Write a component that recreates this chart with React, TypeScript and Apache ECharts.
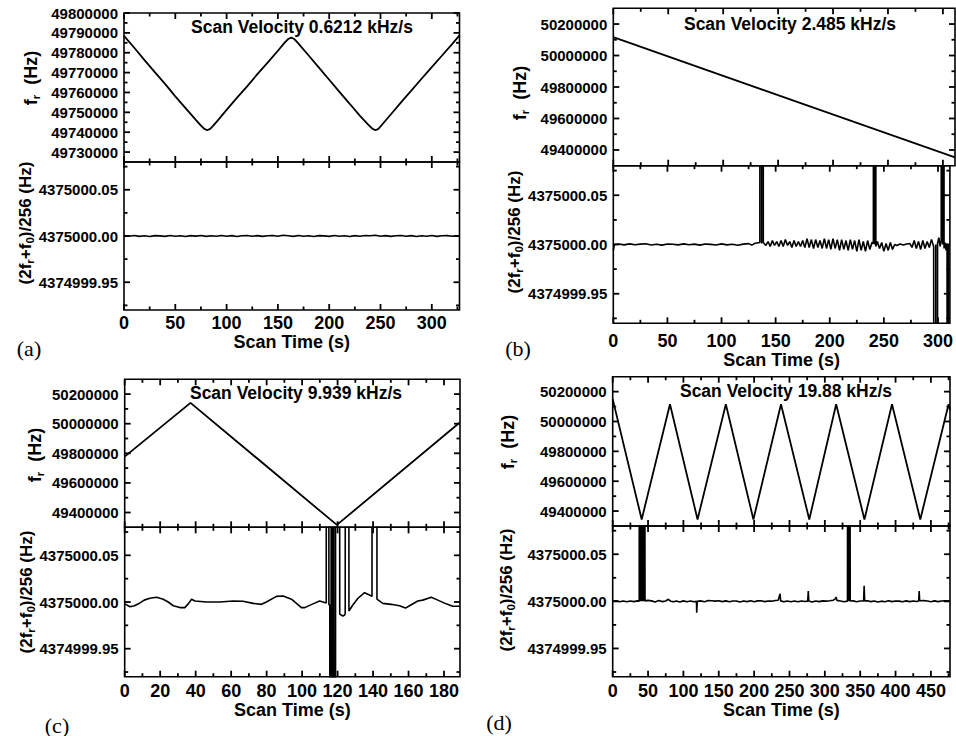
import React, { useEffect, useRef } from 'react';
import * as echarts from 'echarts';

type Pt = [number, number];

const FONT = '"Liberation Sans", Arial, Helvetica, sans-serif';
const SERIF = '"Liberation Serif", "Times New Roman", serif';
const BASE = 4375000; // (2fr+f0)/256 nominal, Hz

// ---------- tick values ----------
const X_MAJOR_A = [0, 50, 100, 150, 200, 250, 300];
const X_MINOR_A = [25, 75, 125, 175, 225, 275, 325];
const X_MAJOR_B = [0, 50, 100, 150, 200, 250, 300];
const X_MINOR_B = [25, 75, 125, 175, 225, 275];
const X_MAJOR_C = [0, 20, 40, 60, 80, 100, 120, 140, 160, 180];
const X_MINOR_C = [10, 30, 50, 70, 90, 110, 130, 150, 170];
const X_MAJOR_D = [0, 50, 100, 150, 200, 250, 300, 350, 400, 450];
const X_MINOR_D = [25, 75, 125, 175, 225, 275, 325, 375, 425, 475];

const FR_MAJOR_A = [49730000, 49740000, 49750000, 49760000, 49770000, 49780000, 49790000, 49800000];
const FR_MINOR_A = [49735000, 49745000, 49755000, 49765000, 49775000, 49785000, 49795000];
const FR_MAJOR_WIDE = [49400000, 49600000, 49800000, 50000000, 50200000];
const FR_MINOR_WIDE = [49500000, 49700000, 49900000, 50100000];

const DEV_MAJOR = [4374999.95, 4375000.0, 4375000.05];
const DEV_MINOR = [4374999.925, 4374999.975, 4375000.025, 4375000.075];

// ---------- panel (a) ----------
const aFr: Pt[] = [
  [0, 49788500], [10, 49782500], [20, 49776300], [30, 49770200], [40, 49764300], [50, 49758000],
  [60, 49752100], [70, 49746200], [75, 49743300], [78, 49741800], [81, 49741000], [84, 49741700],
  [87, 49743300], [90, 49745100], [100, 49751200], [110, 49757300], [120, 49763100], [130, 49769200],
  [140, 49775000], [150, 49781000], [157, 49785300], [160, 49786900], [163, 49787600], [166, 49786900],
  [169, 49785200], [180, 49778600], [190, 49772500], [200, 49766400], [210, 49760300], [220, 49754300],
  [230, 49748200], [238, 49743800], [242, 49741800], [245, 49741000], [248, 49741700], [251, 49743500],
  [260, 49748900], [270, 49755000], [280, 49760900], [290, 49766900], [300, 49772800], [310, 49778600],
  [320, 49784500], [327, 49788700],
];
const aDev: Pt[] = [
  [0, 0.0004], [5, -0.0003], [10, 0.0005], [15, -0.0004], [20, 0.0002], [25, -0.0005], [30, 0.0004],
  [35, 0.0001], [40, -0.0004], [45, 0.0005], [50, -0.0002], [55, 0.0003], [60, -0.0005], [65, 0.0004],
  [70, -0.0001], [75, 0.0005], [80, -0.0004], [85, 0.0003], [90, -0.0003], [95, 0.0006], [100, -0.0002],
  [105, 0.0004], [110, -0.0005], [115, 0.0002], [120, 0.0005], [125, -0.0003], [130, 0.0004], [135, -0.0004],
  [140, 0.0003], [145, 0.0006], [150, -0.0002], [155, 0.0008], [160, 0.0003], [165, -0.0004], [170, 0.0005],
  [175, -0.0003], [180, 0.0002], [185, -0.0005], [190, 0.0004], [195, 0.0001], [200, -0.0004], [205, 0.0005],
  [210, -0.0003], [215, 0.0003], [220, -0.0005], [225, 0.0004], [230, -0.0002], [235, 0.0005], [240, 0.0003],
  [245, 0.0008], [250, -0.0003], [255, 0.0004], [260, -0.0004], [265, 0.0002], [270, 0.0005], [275, -0.0003],
  [280, 0.0004], [285, -0.0005], [290, 0.0003], [295, -0.0002], [300, 0.0005], [305, -0.0004], [310, 0.0002],
  [315, 0.0004], [320, -0.0003], [325, 0.0003], [327, 0.0001],
];

// ---------- panel (b) ----------
const bFr: Pt[] = [[0, 50117000], [155, 49736000], [311, 49353000]];
const bDev: Pt[] = [
  [0, -0.006], [1, 0], [5, 0.0005], [10, -0.0004], [15, 0.0006], [20, -0.0003], [25, 0.0004], [30, 0.0007],
  [35, -0.0005], [40, 0.0003], [45, -0.0006], [50, 0.0005], [55, 0.0002], [60, -0.0004], [65, 0.0006],
  [70, -0.0003], [75, 0.0004], [80, -0.0006], [85, 0.0005], [90, 0.0001], [95, -0.0005], [100, 0.0006],
  [105, -0.0004], [110, 0.0003], [115, -0.0007], [120, 0.0004], [125, 0.0009], [128, -0.0006], [131, 0.0012],
  [134, 0.0018], [135.4, 0.002], [135.5, 0.5], [137.0, 0.5], [137.05, 0.001], [137.1, 0.5], [138.5, 0.5],
  [138.6, 0.002],
  [139, 0.002], [141, -0.001], [143, 0.003], [145, -0.002], [147, 0.004], [149, -0.001], [151, 0.003],
  [153, -0.002], [155, 0.004], [157, -0.002], [159, 0.005], [161, -0.001], [163, 0.003], [165, -0.003],
  [167, 0.004], [169, -0.002], [171, 0.003], [173, -0.002], [175, 0.004], [177, -0.003], [179, 0.006],
  [181, -0.003], [183, 0.005], [185, -0.004], [187, 0.005], [189, -0.003], [191, 0.004], [193, -0.004],
  [195, 0.006], [197, -0.004], [199, 0.005], [201, -0.005], [203, 0.006], [205, -0.004], [207, 0.005],
  [209, -0.006], [211, 0.005], [213, -0.005], [215, 0.004], [217, -0.006], [219, 0.005], [221, -0.005],
  [223, 0.004], [225, -0.007], [227, 0.005], [229, -0.006], [231, 0.003], [233, -0.007], [235, 0.004],
  [237, -0.005], [239, 0.002],
  [240.3, 0.001], [240.4, 0.5], [241.4, 0.5], [241.45, 0.0], [241.5, 0.5], [242.5, 0.5], [242.6, -0.002],
  [244, 0.003], [246, -0.004], [248, 0.002], [250, -0.007], [252, 0.001], [254, -0.006], [256, 0.002],
  [258, -0.005], [260, 0.0], [262, -0.001], [265, 0.0005], [268, -0.0005], [271, 0.0005], [274, 0.001],
  [276, -0.003], [278, 0.004], [280, -0.004], [282, 0.003], [284, -0.005], [286, 0.004], [288, -0.004],
  [290, 0.003], [292, -0.003], [294, 0.005], [296, -0.002],
  [296.4, -0.5], [297.9, -0.5], [297.95, 0.0], [298.0, -0.5], [299.5, -0.5], [299.6, 0.001],
  [300.8, 0.007], [302, -0.002], [303, 0.004],
  [303.1, 0.5], [304.3, 0.5], [304.35, 0.0], [304.4, 0.5], [305.5, 0.5], [305.6, -0.004],
  [306.5, 0.002], [307.5, -0.006], [308.4, 0.001],
  [308.5, -0.5], [309.5, -0.5], [309.55, 0.0], [309.6, -0.5], [310.6, -0.5], [311, -0.5],
];

// ---------- panel (c) ----------
const cFr: Pt[] = [[0, 49777800], [37.1, 50141000], [119.6, 49316000], [188.7, 50006700]];
const cDev: Pt[] = [
  [0, -0.002], [3, -0.005], [5.5, -0.004], [8.6, -0.001], [11, 0.002], [14.2, 0.004], [18, 0.005],
  [21.7, 0.003], [24.5, 0.0], [27.4, -0.004], [31.1, -0.006], [33.9, -0.006], [35.8, -0.002], [37.7, 0.003],
  [39.6, 0.001], [46.1, 0.0], [53.6, 0.0], [61.1, 0.001], [66.7, 0.0008], [72.4, -0.0015], [77.1, -0.0025],
  [79.9, 0.0], [85.5, 0.006], [89.3, 0.0065], [94, 0.003], [99.6, -0.006], [101.5, -0.006], [106.1, -0.002],
  [109.9, 0.001], [113.6, -0.001],
  [113.7, 0.5], [115.0, 0.5], [115.1, -0.003], [115.6, -0.003], [115.7, -0.5], [116.3, -0.5], [116.4, 0.5],
  [116.8, 0.5], [116.9, -0.5], [117.6, -0.5], [117.7, 0.5], [118.0, 0.5], [118.1, -0.5], [118.8, -0.5],
  [118.9, 0.5], [121.1, 0.5], [121.2, -0.013], [122, -0.014], [123, -0.015], [124, -0.014], [124.3, -0.012],
  [124.4, 0.5], [126.3, 0.5], [126.4, -0.0097], [128.7, -0.003], [131.5, 0.004], [135.2, 0.01], [138, 0.0075],
  [139.4, 0.006], [139.5, 0.5], [142.1, 0.5], [142.2, 0.003], [145.5, -0.0015], [150.2, -0.0025],
  [154.9, -0.004], [158.3, -0.0065], [161.5, -0.003], [165.2, 0.001], [168, 0.002], [172.8, 0.005],
  [176.5, 0.002], [181.2, -0.002], [184.9, -0.0045], [189, -0.0045],
];

// ---------- panel (d) ----------
const dFr: Pt[] = [
  [0, 50150000], [41, 49344000], [81, 50115000], [120, 49344000], [160, 50115000], [199, 49344000],
  [238, 50115000], [278, 49344000], [316, 50115000], [356, 49344000], [395, 50115000], [435, 49344000],
  [475, 50115000], [477, 50076000],
];
const dDev: Pt[] = [
  [0, 0], [5, 0.0005], [10, -0.0004], [15, 0.0003], [20, -0.0005], [25, 0.0004], [30, -0.0003], [35, 0.0005],
  [37.5, 0.0002], [37.7, 0.5], [38.7, 0.5], [38.8, 0], [38.9, 0.5], [39.9, 0.5], [40, 0], [40.1, 0.5],
  [41.1, 0.5], [41.2, 0], [41.3, 0.5], [42.3, 0.5], [42.4, 0], [42.5, 0.5], [43.5, 0.5], [43.6, 0],
  [43.7, 0.5], [44.7, 0.5], [44.8, 0], [44.9, 0.5], [45.6, 0.5], [45.7, 0.0005],
  [50, 0.001], [55, 0.0005], [60, -0.0006], [65, 0.0008], [70, -0.0003], [75, 0.0004], [78.7, 0.0022],
  [82, 0.0002], [86, -0.0005], [90, 0.0004], [95, -0.0006], [100, 0.0005], [105, -0.0004], [110, 0.0003],
  [115, -0.0005], [118.5, 0.0], [118.8, -0.012], [119.3, -0.012], [119.6, 0], [124, 0.0005], [130, -0.0004],
  [135, 0.0008], [140, 0.0006], [145, 0.0002], [150, 0.0007], [155, -0.0003], [160, 0.0005], [165, -0.0004],
  [170, 0.0004], [175, 0.0003], [180, -0.0006], [185, 0.0004], [190, -0.0003], [195, 0.0006], [200, -0.0004],
  [205, 0.0005], [210, 0.0006], [215, -0.0003], [220, 0.0004], [225, 0.0002], [230, 0.0009], [234, 0.0012],
  [236.7, 0.008], [237.5, 0.0005], [242, -0.0005], [247, 0.0004], [252, -0.0004], [257, 0.0003],
  [262, -0.0005], [267, 0.0004], [272, -0.0002], [275.8, 0.0002], [276.6, 0.011], [277.3, 0.0004],
  [282, -0.0006], [287, 0.0004], [292, -0.0003], [297, 0.0005], [302, 0.0002], [307, 0.0006], [312, 0.0012],
  [315.2, 0.003], [316, 0.0047], [317, 0.001], [322, 0.0003], [327, -0.0004], [332, 0.0002],
  [332.5, 0.5], [333.6, 0.5], [333.7, 0], [333.8, 0.5], [334.7, 0.5], [334.8, 0], [334.9, 0.5], [335.8, 0.5],
  [335.9, 0.0003], [340, 0.0005], [345, -0.0004], [350, 0.0003], [354.8, 0.0004], [355.6, 0.0165],
  [356.3, 0.0005], [360, 0.0006], [365, -0.0003], [370, 0.0004], [375, -0.0006], [380, 0.0002],
  [385, -0.0004], [390, 0.0007], [395, -0.0003], [400, 0.0004], [405, 0.0002], [410, -0.0004], [415, 0.0005],
  [420, -0.0003], [425, 0.0004], [430, -0.0002], [432.7, 0.0004], [433.4, 0.011], [434.1, 0.0006],
  [440, 0.0008], [445, 0.0003], [450, -0.0004], [455, 0.0005], [460, -0.0003], [465, 0.0004], [470, 0.0006],
  [477, 0.0003],
];

const PANELS = [
  { title: 'Scan Velocity 0.6212 kHz/s', letter: '(a)', xMax: 327, xMajor: X_MAJOR_A, xMinor: X_MINOR_A,
    frMin: 49725000, frMax: 49800000, frMajor: FR_MAJOR_A, frMinor: FR_MINOR_A, fr: aFr, dev: aDev },
  { title: 'Scan Velocity 2.485 kHz/s', letter: '(b)', xMax: 311, xMajor: X_MAJOR_B, xMinor: X_MINOR_B,
    frMin: 49300000, frMax: 50300000, frMajor: FR_MAJOR_WIDE, frMinor: FR_MINOR_WIDE, fr: bFr, dev: bDev },
  { title: 'Scan Velocity 9.939 kHz/s', letter: '(c)', xMax: 189, xMajor: X_MAJOR_C, xMinor: X_MINOR_C,
    frMin: 49300000, frMax: 50300000, frMajor: FR_MAJOR_WIDE, frMinor: FR_MINOR_WIDE, fr: cFr, dev: cDev },
  { title: 'Scan Velocity 19.88 kHz/s', letter: '(d)', xMax: 477, xMajor: X_MAJOR_D, xMinor: X_MINOR_D,
    frMin: 49300000, frMax: 50300000, frMajor: FR_MAJOR_WIDE, frMinor: FR_MINOR_WIDE, fr: dFr, dev: dDev },
];

const FR_NAME = '{m|f}{s|r}{m|  (Hz)}';
const DEV_NAME = '{n|(2f}{s|r}{n|+f}{s|0}{n|)/256 (Hz)}';

const DEV_MIN = BASE - 0.08;
const DEV_MAX = BASE + 0.08;

// ---------- layout (pixels) ----------
const LAYOUT = [
  { left: 124, width: 335.5, top: 13, mid: 162, bottom: 310, title: [302, 27], letter: [29, 348],
    xLabelMargin: 3.5, xNameGap: 23, topName: [31, 78], botName: [25, 223] },
  { left: 613.3, width: 341.7, top: 8.3, mid: 165.7, bottom: 323.3, title: [790, 23.5], letter: [518, 348],
    xLabelMargin: 9, xNameGap: 22, topName: [520, 93], botName: [514, 232] },
  { left: 124.7, width: 335.3, top: 379.3, mid: 527.3, bottom: 676.7, title: [296, 392.5], letter: [57, 725],
    xLabelMargin: 5, xNameGap: 22, topName: [35, 455], botName: [26, 592] },
  { left: 612.7, width: 337.3, top: 376.7, mid: 526, bottom: 676.7, title: [786, 391], letter: [499, 722],
    xLabelMargin: 5, xNameGap: 23, topName: [508, 442], botName: [506, 590] },
];

const MAJ_LEN = 6;
const MIN_LEN = 3.5;
const TICK_COLOR = '#000';
const TICK_WIDTH = 1.8;

// inward ticks on all four sides, placed through the axes' own scales
const xTickRender = (params: any, api: any) => {
  const x = api.coord([api.value(0), api.value(1)])[0];
  const cs = params.coordSys;
  const len = api.value(2) ? MAJ_LEN : MIN_LEN;
  return {
    type: 'group',
    children: [
      { type: 'line', shape: { x1: x, y1: cs.y + cs.height, x2: x, y2: cs.y + cs.height - len },
        style: { stroke: TICK_COLOR, lineWidth: TICK_WIDTH } },
      { type: 'line', shape: { x1: x, y1: cs.y, x2: x, y2: cs.y + len },
        style: { stroke: TICK_COLOR, lineWidth: TICK_WIDTH } },
    ],
  };
};
const yTickRender = (params: any, api: any) => {
  const y = api.coord([api.value(0), api.value(1)])[1];
  const cs = params.coordSys;
  const len = api.value(2) ? MAJ_LEN : MIN_LEN;
  return {
    type: 'group',
    children: [
      { type: 'line', shape: { x1: cs.x, y1: y, x2: cs.x + len, y2: y },
        style: { stroke: TICK_COLOR, lineWidth: TICK_WIDTH } },
      { type: 'line', shape: { x1: cs.x + cs.width, y1: y, x2: cs.x + cs.width - len, y2: y },
        style: { stroke: TICK_COLOR, lineWidth: TICK_WIDTH } },
    ],
  };
};

function buildOption() {
  const grid: any[] = [];
  const xAxis: any[] = [];
  const yAxis: any[] = [];
  const series: any[] = [];
  const graphic: any[] = [];
  const lab = { fontFamily: FONT, fontWeight: 'bold', color: '#000' };
  const rich = {
    m: { fontFamily: FONT, fontWeight: 'bold', fontSize: 18, fill: '#000', color: '#000' },
    n: { fontFamily: FONT, fontWeight: 'bold', fontSize: 17, fill: '#000', color: '#000' },
    s: { fontFamily: FONT, fontWeight: 'bold', fontSize: 11.5, fill: '#000', color: '#000', padding: [9, 0, 0, 0] },
  };
  const centered = { align: 'center', verticalAlign: 'middle', textAlign: 'center', textVerticalAlign: 'middle' };

  PANELS.forEach((p, i) => {
    const L = LAYOUT[i];

    const addPlot = (top: number, height: number, yMin: number, yMax: number, yMajor: number[], yMinor: number[],
      fmt: (v: number) => string, withXLabels: boolean, data: number[][], lineWidth: number, name: string) => {
      const g = grid.length;
      grid.push({ left: L.left, top, width: L.width, height, show: true, borderColor: '#000', borderWidth: 1.6 });
      const xi = xAxis.length;
      xAxis.push({
        type: 'value', gridIndex: g, position: 'bottom', min: 0, max: p.xMax,
        axisLine: { show: false, onZero: false }, axisTick: { show: false }, splitLine: { show: false },
        axisLabel: withXLabels
          ? { show: true, customValues: p.xMajor, margin: L.xLabelMargin, fontSize: 18, ...lab,
              formatter: (v: number) => String(v) }
          : { show: false },
        name: withXLabels ? 'Scan Time (s)' : '',
        nameLocation: 'middle', nameGap: L.xNameGap, nameTextStyle: { fontSize: 18, ...lab },
      });
      const yi = yAxis.length;
      yAxis.push({
        type: 'value', gridIndex: g, position: 'left', min: yMin, max: yMax,
        axisLine: { show: false, onZero: false }, axisTick: { show: false }, splitLine: { show: false },
        axisLabel: { show: true, customValues: yMajor, margin: 6, fontSize: 15, ...lab, formatter: fmt },
      });
      series.push({
        type: 'line', name, xAxisIndex: xi, yAxisIndex: yi, data,
        showSymbol: false, symbol: 'none', lineStyle: { color: '#000', width: lineWidth },
        itemStyle: { color: '#000' }, clip: true,
      });
      series.push({
        type: 'custom', xAxisIndex: xi, yAxisIndex: yi, renderItem: xTickRender,
        data: [...p.xMajor.map((v) => [v, yMin, 1]), ...p.xMinor.map((v) => [v, yMin, 0])],
      });
      series.push({
        type: 'custom', xAxisIndex: xi, yAxisIndex: yi, renderItem: yTickRender,
        data: [...yMajor.map((v) => [0, v, 1]), ...yMinor.map((v) => [0, v, 0])],
      });
    };

    addPlot(L.top, L.mid - L.top, p.frMin, p.frMax, p.frMajor, p.frMinor,
      (v) => String(Math.round(v)), false, p.fr, 1.8, `fr ${p.letter}`);
    addPlot(L.mid, L.bottom - L.mid, DEV_MIN, DEV_MAX, DEV_MAJOR, DEV_MINOR,
      (v) => v.toFixed(2), true, p.dev.map(([t, d]) => [t, BASE + d]), 1.6, `beat ${p.letter}`);

    graphic.push({
      type: 'text', x: L.title[0], y: L.title[1], z: 10,
      style: { text: p.title, fontFamily: FONT, fontWeight: 'bold', fontSize: 17.5, fill: '#000', ...centered },
    });
    graphic.push({
      type: 'text', x: L.letter[0], y: L.letter[1], z: 10,
      style: { text: p.letter, fontFamily: SERIF, fontSize: 22, fill: '#000', ...centered },
    });
    graphic.push({
      type: 'text', x: L.topName[0], y: L.topName[1], rotation: Math.PI / 2, z: 10,
      style: { text: FR_NAME, rich, fontFamily: FONT, fontWeight: 'bold', fontSize: 18, fill: '#000', ...centered },
    });
    graphic.push({
      type: 'text', x: L.botName[0], y: L.botName[1], rotation: Math.PI / 2, z: 10,
      style: { text: DEV_NAME, rich, fontFamily: FONT, fontWeight: 'bold', fontSize: 17, fill: '#000', ...centered },
    });
  });

  return { animation: false, backgroundColor: '#fff', grid, xAxis, yAxis, series, graphic };
}

export default function App() {
  const ref = useRef<HTMLDivElement>(null);
  useEffect(() => {
    if (!ref.current) return;
    const chart = echarts.init(ref.current, null, { renderer: 'svg' });
    chart.setOption(buildOption() as any);
    return () => chart.dispose();
  }, []);
  return (
    <div
      ref={ref}
      style={{ position: 'fixed', left: 0, top: 0, width: 956, height: 736, background: '#fff' }}
    />
  );
}
